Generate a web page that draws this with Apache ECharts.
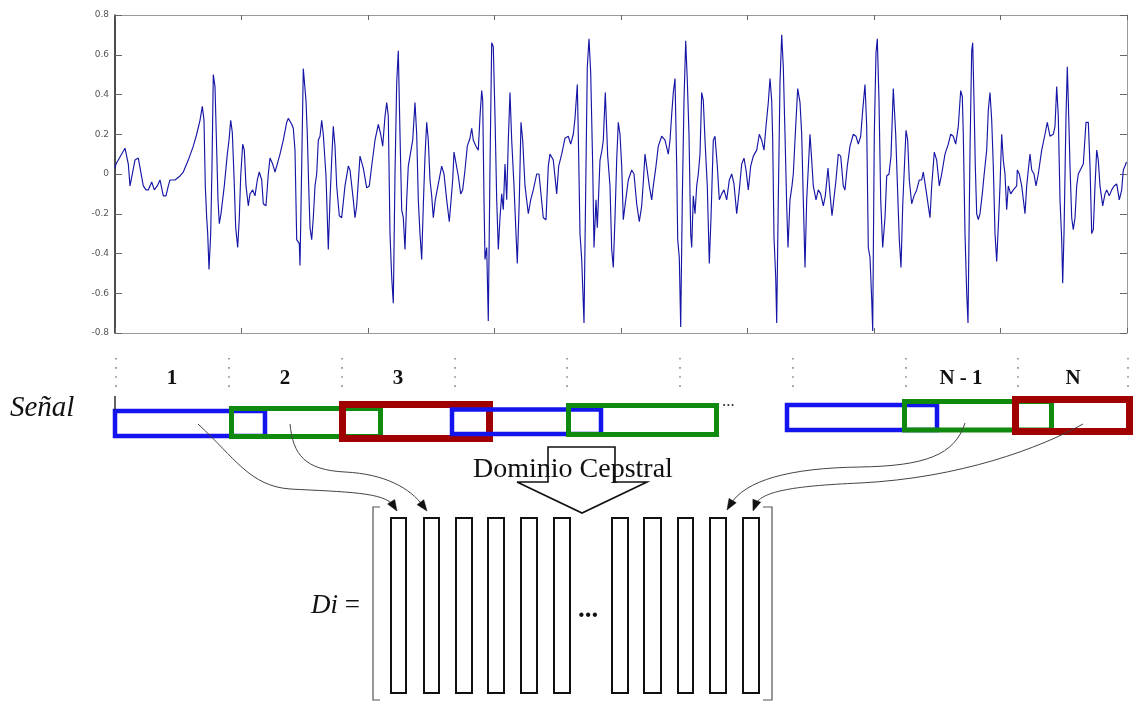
<!DOCTYPE html>
<html>
<head>
<meta charset="utf-8">
<script src="https://cdn.jsdelivr.net/npm/echarts@6/dist/echarts.min.js"></script>
<style>
  html, body { margin: 0; background: #fff; }
  #main { width: 1133px; height: 702px; }
</style>
</head>
<body>
<div id="main"></div>
<script>
// signal samples (x = position along the record, y = amplitude)
const sigX = [
  0, 1, 10, 13.3, 15, 16.7, 20, 23.3, 25, 28.3, 31, 33.3, 36.7, 39.3, 42.3, 45, 48.3, 51, 53.3, 55,
  60, 65, 68.3, 73.3, 78.3, 81.7, 85, 87.3, 89, 90.3, 91.7, 92.7, 94, 95.7, 97, 98.3, 100, 101.7, 103, 104.3,
  106, 107.7, 109.3, 110.3, 112.3, 114, 115.7, 117.3, 119, 120.7, 122.7, 124.3, 125.7, 127.7, 129.3, 131, 133.3, 135, 137.7, 140,
  142.3, 144.3, 146.7, 148.3, 151, 153.3, 155, 157.7, 160, 161.7, 165, 168.3, 171.7, 173.3, 176.7, 178.3, 180, 181.7, 184.3, 185,
  186.7, 188.3, 190, 191, 192.3, 193.7, 195, 196.7, 198.3, 200, 201.7, 203.3, 205, 206.7, 208.3, 211, 213.3, 215, 216.7, 218.3,
  220, 221.7, 224.3, 226.7, 230, 233.3, 235, 238.3, 240, 241.7, 245, 248.3, 251.7, 254.3, 256.7, 260, 263.3, 265.7, 267.7, 270,
  271.7, 273.3, 275, 276.7, 278.3, 280, 281.7, 283.3, 285, 286.7, 288.3, 290, 291.7, 293.3, 295, 297.7, 300, 301.7, 303.3, 305,
  306.7, 308.3, 310, 311.7, 313.3, 315, 316.7, 318.3, 320.3, 323.3, 326.7, 329, 331.7, 334.3, 337.7, 339, 341, 343.3, 345.7, 347.7,
  350, 352.3, 355, 356.7, 358.3, 361, 363.3, 365, 366.7, 367.7, 369, 370, 371.7, 373.3, 375, 376.7, 378.3, 380, 381.7, 383.3,
  385, 386.7, 388.3, 390, 391.7, 393.3, 395, 396.7, 399, 401, 402.3, 404.3, 406, 407.7, 410, 413.3, 415.7, 418.3, 421.7, 424,
  425, 428.3, 431, 433.3, 435, 438.3, 441.7, 443.7, 446.7, 450, 453.3, 455.7, 458.3, 460, 462.3, 463.3, 465, 466.7, 469, 471,
  472.3, 474, 475.7, 477.7, 479, 481, 482.3, 485, 487, 488.3, 490.3, 492.7, 495, 496.7, 498.3, 500, 501.7, 503.3, 505, 506.7,
  508.3, 510, 513.3, 516.7, 519, 521.7, 524.3, 526.7, 528.3, 530, 531.7, 534.3, 536.7, 538.3, 541, 543.3, 546.7, 550, 553.3, 555,
  556.7, 558.3, 560, 561.7, 562.7, 564.3, 565.7, 567.3, 569, 570.7, 572.3, 574, 575.7, 576.7, 578.3, 580, 581.7, 583.3, 585, 586.7,
  588.3, 590, 592.3, 594.3, 596, 598.3, 600, 602.3, 604.3, 606.7, 609, 611.7, 614.3, 616.7, 619, 621.7, 624.3, 626.7, 629, 631,
  633.3, 635.7, 638.3, 641.7, 644.3, 646.7, 649, 651, 653.3, 655, 656.7, 657.7, 659, 660.7, 661.7, 663.3, 665, 666.7, 668.3, 670,
  671.7, 673, 675, 677, 678.3, 680.7, 682.7, 685, 686.7, 688.3, 690, 691.7, 695, 696.7, 698.3, 701, 703.3, 705.7, 708.3, 710.3,
  713, 715, 717, 719, 721, 723.3, 725.7, 728.3, 730, 732.3, 735, 738.3, 741, 743.3, 745.7, 747.7, 750, 751.7, 753.3, 755,
  756.7, 757.7, 759.3, 761, 762.3, 764, 765.7, 767.7, 770, 771.7, 774, 776, 778.3, 780.7, 782.7, 784.3, 786, 787.7, 791, 792.7,
  794.3, 796.7, 799, 801.7, 804.3, 806.7, 808.3, 811, 813.3, 815, 816.7, 819.3, 821.7, 824.3, 826.7, 830, 833.3, 835.7, 838.3, 840.7,
  843.3, 845.7, 847.3, 848.3, 850, 851.7, 853, 855, 856.7, 857.7, 859, 860.3, 861.7, 863.3, 865, 867.3, 869, 871.7, 873.3, 875,
  876.7, 878.3, 880, 881.7, 883.7, 885, 886.7, 888.3, 890, 891.7, 893.3, 895.7, 898.3, 901.7, 902.3, 904.3, 906.7, 910, 911.7, 913.3,
  915, 916.7, 919, 921, 923.3, 926.7, 930, 932.3, 935, 938.3, 940, 941.7, 943.3, 945, 946.7, 947.7, 949, 951, 952.3, 953.3,
  955, 956.7, 958.3, 960, 961.7, 963.3, 965, 968.3, 971, 973.3, 975, 976.7, 978.3, 980, 981.7, 983.3, 985, 987.7, 990, 991.7,
  994.3, 996.7, 999, 1001.7, 1004.3, 1006.7, 1008.3, 1010, 1011.5
];
const sigY = [
  0.03, 0.05, 0.13, 0.05, -0.06, -0.06, 0.07, 0.08, 0.07, -0.06, -0.08, -0.08, -0.04, -0.08, -0.06, -0.03, -0.11, -0.11, -0.06, -0.03,
  -0.03, -0.01, 0.01, 0.07, 0.14, 0.2, 0.27, 0.34, 0.27, -0.06, -0.22, -0.3, -0.48, -0.3, 0.04, 0.5, 0.44, 0.12, -0.13, -0.25,
  -0.2, -0.19, -0.06, -0.06, 0.1, 0.17, 0.27, 0.21, -0.01, -0.27, -0.37, -0.22, -0.01, 0.15, 0.12, -0.06, -0.16, -0.1, -0.08, -0.11,
  -0.03, 0.01, -0.03, -0.15, -0.16, 0.0, 0.08, 0.05, 0.01, 0.04, 0.1, 0.17, 0.26, 0.28, 0.25, 0.23, 0.12, -0.33, -0.35, -0.46,
  0.04, 0.53, 0.52, 0.37, 0.2, -0.06, -0.27, -0.33, -0.22, -0.06, 0.0, 0.17, 0.19, 0.27, 0.2, -0.01, -0.38, -0.13, 0.07, 0.24,
  0.14, -0.06, -0.21, -0.22, -0.06, 0.04, 0.02, -0.13, -0.22, -0.16, 0.09, 0.03, -0.07, -0.06, 0.04, 0.17, 0.25, 0.2, 0.14, 0.29,
  0.36, 0.29, -0.3, -0.52, -0.65, 0.0, 0.46, 0.62, 0.2, -0.18, -0.22, -0.38, -0.13, 0.04, 0.09, 0.17, 0.36, 0.2, -0.13, -0.3,
  -0.43, -0.16, 0.09, 0.26, 0.17, -0.03, -0.11, -0.22, -0.13, -0.05, 0.04, 0.0, -0.13, -0.24, -0.03, 0.11, 0.1, -0.01, -0.1, -0.08,
  0.02, 0.14, 0.18, 0.23, 0.17, 0.14, 0.12, 0.29, 0.42, 0.37, -0.13, -0.43, -0.37, -0.74, 0.04, 0.66, 0.64, 0.29, -0.13, -0.38,
  -0.22, -0.1, -0.18, 0.05, -0.13, 0.17, 0.41, 0.17, -0.06, -0.3, -0.45, -0.13, 0.26, 0.17, -0.06, -0.2, -0.13, -0.08, 0.0, 0.0,
  -0.01, -0.22, -0.23, 0.04, 0.1, 0.07, -0.1, 0.04, 0.1, 0.18, 0.19, 0.15, 0.2, 0.28, 0.45, 0.2, -0.3, -0.43, -0.75, 0.04,
  0.54, 0.68, 0.51, 0.04, -0.37, -0.13, -0.27, 0.07, 0.12, 0.17, 0.41, 0.09, -0.06, -0.38, -0.47, -0.22, 0.07, 0.26, 0.2, 0.04,
  -0.23, -0.16, -0.03, 0.02, 0.0, -0.15, -0.24, -0.16, -0.04, 0.1, 0.09, -0.06, -0.13, -0.06, 0.04, 0.14, 0.19, 0.17, 0.1, 0.17,
  0.3, 0.41, 0.48, 0.04, -0.33, -0.42, -0.77, -0.13, 0.37, 0.67, 0.47, 0.2, -0.3, -0.37, -0.11, -0.2, -0.06, 0.0, 0.1, 0.41,
  0.37, 0.17, -0.06, -0.45, -0.22, 0.17, 0.19, 0.04, -0.13, -0.1, -0.08, -0.13, -0.03, 0.0, -0.05, -0.2, -0.08, 0.05, 0.08, 0.02,
  -0.08, 0.04, 0.09, 0.12, 0.2, 0.17, 0.12, 0.24, 0.36, 0.48, 0.37, 0.17, -0.32, -0.52, -0.75, -0.13, 0.46, 0.7, 0.54, 0.2,
  -0.16, -0.37, -0.13, -0.06, 0.0, 0.24, 0.43, 0.36, 0.2, -0.13, -0.47, -0.13, 0.2, 0.07, -0.06, -0.13, -0.08, -0.1, -0.16, -0.11,
  0.03, -0.1, -0.21, -0.22, -0.03, 0.1, 0.09, -0.06, -0.08, 0.04, 0.14, 0.2, 0.19, 0.15, 0.19, 0.32, 0.45, 0.24, -0.37, -0.42,
  -0.63, -0.79, 0.2, 0.61, 0.68, 0.37, -0.13, -0.37, -0.22, -0.01, 0.0, 0.09, 0.43, 0.2, -0.1, -0.33, -0.47, -0.16, 0.22, 0.17,
  -0.03, -0.15, -0.11, -0.08, -0.03, -0.03, 0.01, -0.08, -0.16, -0.22, -0.06, 0.11, 0.07, -0.06, 0.0, 0.1, 0.15, 0.2, 0.19, 0.15,
  0.24, 0.42, 0.39, 0.2, -0.3, -0.6, -0.75, 0.12, 0.62, 0.66, 0.37, 0.04, -0.2, -0.23, -0.2, -0.1, -0.01, 0.12, 0.32, 0.41,
  0.27, 0.04, -0.3, -0.44, -0.22, -0.06, 0.2, 0.07, 0.0, -0.18, -0.06, -0.1, -0.08, -0.06, 0.02, 0.0, -0.06, -0.2, -0.06, 0.02,
  0.1, 0.02, 0.0, -0.06, 0.0, 0.12, 0.2, 0.26, 0.19, 0.2, 0.24, 0.44, 0.29, -0.13, -0.33, -0.55, -0.3, 0.29, 0.54, 0.37,
  0.04, -0.22, -0.28, -0.22, -0.06, 0.0, -0.01, 0.05, 0.26, 0.26, 0.04, -0.3, -0.28, -0.06, 0.12, 0.07, -0.06, -0.16, -0.1, -0.08,
  -0.11, -0.08, -0.06, -0.05, -0.13, -0.08, 0.02, 0.04, 0.06
];
const yTicks = [-0.8, -0.6, -0.4, -0.2, 0, 0.2, 0.4, 0.6, 0.8];
const yTickLabels = ['-0.8', '-0.6', '-0.4', '-0.2', '0', '0.2', '0.4', '0.6', '0.8'];

// framing diagram (drawn on a second, pixel-sized grid)
const dividerX = [116, 229, 342, 455, 567, 680, 793, 906, 1018, 1128];
const frameLabels = ['1', '2', '3', 'N - 1', 'N'];
const frameLabelX = [172, 285, 398, 961, 1073];
const windows = [
  [115, 411, 265, 436],
  [231.5, 408.5, 380.5, 436.5],
  [342.5, 404.5, 489.5, 438.5],
  [452, 409.5, 601, 434],
  [568.5, 405.5, 716.5, 434.5],
  [787, 405, 937, 430],
  [904.5, 401.5, 1051.5, 430],
  [1015.5, 399.5, 1129.5, 431.5]
];
const windowKind = [0, 1, 2, 0, 1, 0, 1, 2];
const kindColor = ['#1414ee', '#0f8a0f', '#a00000'];
const kindWidth = [4.5, 5, 7];
const colLeft = [390, 423, 455, 487, 520, 553, 611, 643, 677, 709, 742];
const colRight = [407, 440, 473, 505, 538, 571, 629, 662, 694, 727, 760];
const arrowPaths = [
  [198, 424, 235, 458, 250, 486, 290, 489, 345, 492, 385, 492, 397, 511],
  [290, 424, 293, 455, 305, 470, 345, 472, 385, 474, 410, 488, 427, 511],
  [965, 423, 955, 455, 925, 466, 860, 467, 790, 468, 745, 480, 727, 510],
  [1083, 424, 1040, 448, 960, 478, 860, 483, 790, 486, 760, 492, 753, 511]
];
const outlines = [
  [[517, 482], [548, 482], [548, 447], [615, 447], [615, 482], [647, 482], [582, 513], [517, 482]],
  [[380, 507], [373, 507], [373, 700], [380, 700]],
  [[763, 507], [772, 507], [772, 700], [763, 700]],
  [[115, 396], [115, 410]]
];
const outlineColor = ['#111', '#555', '#555', '#222'];
const outlineWidth = [1.6, 1.2, 1.2, 1.4];

let eChart = echarts.init(document.getElementById('main'));

function pt(api, x, y) {
    return api.coord([x, y]);
}

let serif = '"Liberation Serif", "DejaVu Serif", serif';

let option = {
    animation: false,
    backgroundColor: '#ffffff',
    grid: [
        {left: 115, top: 15, width: 1012, height: 318},
        {left: 0, top: 0, width: 1133, height: 702}
    ],
    xAxis: [
        {
            gridIndex: 0, type: 'value', min: 0, max: 1012, interval: 126.5,
            axisLine: {onZero: false, lineStyle: {color: '#999'}},
            axisTick: {inside: true, length: 5, lineStyle: {color: '#666'}},
            axisLabel: {show: false},
            splitLine: {show: false}
        },
        {
            gridIndex: 0, type: 'value', position: 'top', min: 0, max: 1012, interval: 126.5,
            axisLine: {onZero: false, lineStyle: {color: '#999'}},
            axisTick: {inside: true, length: 5, lineStyle: {color: '#666'}},
            axisLabel: {show: false},
            splitLine: {show: false}
        },
        {gridIndex: 1, type: 'value', min: 0, max: 1133, show: false}
    ],
    yAxis: [
        {
            gridIndex: 0, type: 'value', min: -0.8, max: 0.8, interval: 0.2,
            axisLine: {show: true, onZero: false, lineStyle: {color: '#111', width: 1.5}},
            axisTick: {inside: true, length: 7, lineStyle: {color: '#666'}},
            axisLabel: {
                margin: 6, fontSize: 9, color: '#555', fontFamily: 'DejaVu Sans',
                formatter: function (v) {
                    for (let i = 0; i < yTicks.length; i++) {
                        if (Math.abs(yTicks[i] - v) < 1e-6) return yTickLabels[i];
                    }
                    return '';
                }
            },
            splitLine: {show: false}
        },
        {
            gridIndex: 0, type: 'value', position: 'right', min: -0.8, max: 0.8, interval: 0.2,
            axisLine: {show: true, onZero: false, lineStyle: {color: '#999'}},
            axisTick: {inside: true, length: 7, lineStyle: {color: '#666'}},
            axisLabel: {show: false},
            splitLine: {show: false}
        },
        {gridIndex: 1, type: 'value', min: 0, max: 702, inverse: true, show: false}
    ],
    series: [
        {
            name: 'signal',
            type: 'line',
            xAxisIndex: 0,
            yAxisIndex: 0,
            data: sigX.map(function (x, i) { return [x, sigY[i]]; }),
            showSymbol: false,
            symbol: 'none',
            lineStyle: {color: '#1616a6', width: 1.15},
            silent: true
        },
        {
            // dotted frame dividers
            type: 'custom', xAxisIndex: 2, yAxisIndex: 2, silent: true,
            data: dividerX.map(function (x) { return [x, 358]; }),
            renderItem: function (params, api) {
                let a = pt(api, api.value(0), 358);
                let b = pt(api, api.value(0), 392);
                return {
                    type: 'line',
                    shape: {x1: a[0], y1: a[1], x2: b[0], y2: b[1]},
                    style: {stroke: '#888', lineWidth: 1.6, lineDash: [1.6, 7.5]}
                };
            }
        },
        {
            // analysis windows
            type: 'custom', xAxisIndex: 2, yAxisIndex: 2, silent: true,
            data: windows,
            renderItem: function (params, api) {
                let a = pt(api, api.value(0), api.value(1));
                let b = pt(api, api.value(2), api.value(3));
                let k = windowKind[params.dataIndex];
                return {
                    type: 'rect',
                    shape: {x: a[0], y: a[1], width: b[0] - a[0], height: b[1] - a[1]},
                    style: {fill: 'none', stroke: kindColor[k], lineWidth: kindWidth[k]}
                };
            }
        },
        {
            // matrix columns
            type: 'custom', xAxisIndex: 2, yAxisIndex: 2, silent: true,
            data: colLeft.map(function (l, i) { return [l + 1, 518, colRight[i] - 1, 693]; }),
            renderItem: function (params, api) {
                let a = pt(api, api.value(0), api.value(1));
                let b = pt(api, api.value(2), api.value(3));
                return {
                    type: 'rect',
                    shape: {x: a[0], y: a[1], width: b[0] - a[0], height: b[1] - a[1]},
                    style: {fill: 'none', stroke: '#111', lineWidth: 2}
                };
            }
        },
        {
            // block arrow, brackets, start tick
            type: 'custom', xAxisIndex: 2, yAxisIndex: 2, silent: true,
            data: outlines.map(function (o, i) { return [o[0][0], o[0][1], i]; }),
            renderItem: function (params, api) {
                let i = api.value(2);
                let pts = outlines[i].map(function (p) { return pt(api, p[0], p[1]); });
                return {
                    type: 'polyline',
                    shape: {points: pts},
                    style: {fill: 'none', stroke: outlineColor[i], lineWidth: outlineWidth[i]}
                };
            }
        },
        {
            // curved arrows from windows to matrix columns
            type: 'custom', xAxisIndex: 2, yAxisIndex: 2, silent: true,
            data: arrowPaths,
            renderItem: function (params, api) {
                let p = [];
                for (let i = 0; i < 14; i += 2) {
                    p.push(pt(api, api.value(i), api.value(i + 1)));
                }
                let dx = p[6][0] - p[5][0];
                let dy = p[6][1] - p[5][1];
                let len = Math.sqrt(dx * dx + dy * dy);
                dx /= len; dy /= len;
                let L = 11, W = 4.2;
                let bx = p[6][0] - L * dx, by = p[6][1] - L * dy;
                let tipEnd = [p[6][0] - 6 * dx, p[6][1] - 6 * dy];
                return {
                    type: 'group',
                    children: [
                        {
                            type: 'bezierCurve',
                            shape: {x1: p[0][0], y1: p[0][1], cpx1: p[1][0], cpy1: p[1][1], cpx2: p[2][0], cpy2: p[2][1], x2: p[3][0], y2: p[3][1]},
                            style: {fill: 'none', stroke: '#444', lineWidth: 1}
                        },
                        {
                            type: 'bezierCurve',
                            shape: {x1: p[3][0], y1: p[3][1], cpx1: p[4][0], cpy1: p[4][1], cpx2: p[5][0], cpy2: p[5][1], x2: tipEnd[0], y2: tipEnd[1]},
                            style: {fill: 'none', stroke: '#444', lineWidth: 1}
                        },
                        {
                            type: 'polygon',
                            shape: {points: [p[6], [bx - W * dy, by + W * dx], [bx + W * dy, by - W * dx]]},
                            style: {fill: '#111', stroke: '#111', lineWidth: 0.5}
                        }
                    ]
                };
            }
        }
    ],
    graphic: [
        {
            type: 'text', left: 10, top: 394, silent: true,
            style: {text: 'Señal', font: 'italic 29px ' + serif, fill: '#111'}
        },
        {
            type: 'text', left: 473, top: 456, silent: true,
            style: {text: 'Dominio Cepstral', font: '28px ' + serif, fill: '#111'}
        },
        {
            type: 'text', left: 311, top: 592, silent: true,
            style: {
                text: '{i|Di} =', font: '27px ' + serif, fill: '#111',
                rich: {i: {font: 'italic 27px ' + serif, fill: '#111'}}
            }
        },
        {
            type: 'text', left: 578, top: 597, silent: true,
            style: {text: '...', font: 'bold 27px ' + serif, fill: '#111'}
        },
        {
            type: 'text', left: 722, top: 393, silent: true,
            style: {text: '...', font: '17px ' + serif, fill: '#333'}
        }
    ].concat(frameLabels.map(function (t, i) {
        return {
            type: 'text', x: frameLabelX[i], y: 379, silent: true,
            style: {
                text: t, font: 'bold 21px ' + serif, fill: '#111',
                textAlign: 'center', textVerticalAlign: 'middle', align: 'center', verticalAlign: 'middle'
            }
        };
    }))
};

eChart.setOption(option);
</script>
</body>
</html>
